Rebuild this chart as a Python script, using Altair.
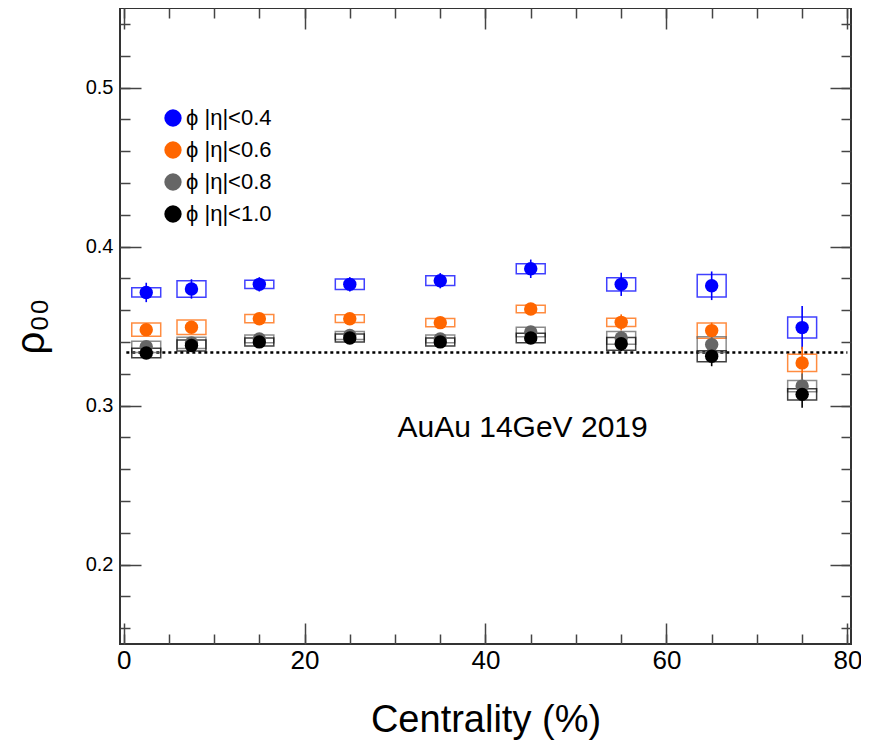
import altair as alt
import pandas as pd

# ---------------- data ----------------
centrality = [2.5, 7.5, 15, 25, 35, 45, 55, 65, 75]
series_labels = ["ϕ |η|<0.4", "ϕ |η|<0.6", "ϕ |η|<0.8", "ϕ |η|<1.0"]
series_colors = ["#0000ff", "#ff6600", "#666666", "#000000"]

rho_04 = [0.3711, 0.3733, 0.3762, 0.3762, 0.3785, 0.3860, 0.3762, 0.3753, 0.3490]
stat_04 = [0.0061, 0.0061, 0.0045, 0.0045, 0.0048, 0.0058, 0.0073, 0.0090, 0.0136]
sys_04 = [0.0029, 0.0052, 0.0026, 0.0033, 0.0031, 0.0031, 0.0042, 0.0071, 0.0066]

rho_06 = [0.3477, 0.3492, 0.3546, 0.3546, 0.3521, 0.3607, 0.3523, 0.3471, 0.3268]
stat_06 = [0.0035, 0.0035, 0.0030, 0.0030, 0.0030, 0.0030, 0.0050, 0.0050, 0.0102]
sys_06 = [0.0042, 0.0046, 0.0026, 0.0024, 0.0026, 0.0023, 0.0026, 0.0048, 0.0054]

rho_08 = [0.3369, 0.3394, 0.3419, 0.3440, 0.3419, 0.3462, 0.3425, 0.3383, 0.3122]
stat_08 = [0.0035, 0.0035, 0.0030, 0.0030, 0.0030, 0.0035, 0.0045, 0.0055, 0.0080]
sys_08 = [0.0035, 0.0035, 0.0025, 0.0025, 0.0025, 0.0030, 0.0040, 0.0050, 0.0035]

rho_10 = [0.3330, 0.3377, 0.3400, 0.3425, 0.3400, 0.3425, 0.3388, 0.3310, 0.3070]
stat_10 = [0.0035, 0.0035, 0.0030, 0.0030, 0.0030, 0.0035, 0.0045, 0.0063, 0.0084]
sys_10 = [0.0030, 0.0035, 0.0025, 0.0025, 0.0025, 0.0030, 0.0040, 0.0035, 0.0035]

x_major = [0, 20, 40, 60, 80]
x_minor = [0, 5, 10, 15, 20, 25, 30, 35, 40, 45, 50, 55, 60, 65, 70, 75, 80]
y_major = [0.2, 0.3, 0.4, 0.5]
y_minor = [0.16, 0.18, 0.2, 0.22, 0.24, 0.26, 0.28, 0.3, 0.32, 0.34, 0.36,
           0.38, 0.4, 0.42, 0.44, 0.46, 0.48, 0.5, 0.52, 0.54]

ref_value = 1.0 / 3.0
ref_x = [0.3, 80.0]
annot_text = "AuAu 14GeV 2019"
annot_x = 44.1
annot_y = 0.280

# ---------------- layout constants ----------------
W, H = 731, 636
BOX_HALF = 1.6
FONT = "Liberation Sans"
X_DOMAIN = [-0.4, 80.4]
Y_DOMAIN = [0.15, 0.55]

rows = []
all_series = [(rho_04, stat_04, sys_04), (rho_06, stat_06, sys_06),
              (rho_08, stat_08, sys_08), (rho_10, stat_10, sys_10)]
for si, (rho, st, sy) in enumerate(all_series):
    for i, c in enumerate(centrality):
        rows.append({
            "series": series_labels[si], "order": si, "cent": c, "rho": rho[i],
            "lo": rho[i] - st[i], "hi": rho[i] + st[i],
            "slo": rho[i] - sy[i], "shi": rho[i] + sy[i],
            "xl": c - BOX_HALF, "xr": c + BOX_HALF,
        })
df = pd.DataFrame(rows)

xs = alt.Scale(domain=X_DOMAIN, nice=False, zero=False)
ys = alt.Scale(domain=Y_DOMAIN, nice=False, zero=False)
cs = alt.Scale(domain=series_labels, range=series_colors)

legend = alt.Legend(
    orient="none", legendX=42, legendY=99, title=None,
    labelFont=FONT, labelFontSize=22, labelColor="black",
    symbolType="circle", symbolSize=300, symbolStrokeWidth=0,
    symbolOpacity=1, rowPadding=10, labelOffset=2, padding=0)


def color_enc():
    return alt.Color("series:N", scale=cs, legend=legend)


base = alt.Chart(df)

boxes = base.mark_rect(filled=False, strokeWidth=1.5, strokeOpacity=0.75).encode(
    x=alt.X("xl:Q", scale=xs, axis=None), x2="xr:Q",
    y=alt.Y("slo:Q", scale=ys, axis=None), y2="shi:Q",
    color=color_enc(),
    order="order:Q",
)

errs = base.mark_rule(strokeWidth=1.6).encode(
    x=alt.X("cent:Q", scale=xs, axis=None),
    y=alt.Y("lo:Q", scale=ys, axis=None), y2="hi:Q",
    color=color_enc(),
    order="order:Q",
)

points = base.mark_circle(size=180, opacity=1).encode(
    x=alt.X("cent:Q", scale=xs, axis=None),
    y=alt.Y("rho:Q", scale=ys, axis=None),
    color=color_enc(),
    order="order:Q",
)

ref_df = pd.DataFrame({"x": [ref_x[0]], "x2": [ref_x[1]], "y": [ref_value]})
ref_line = alt.Chart(ref_df).mark_rule(color="black", strokeWidth=2.5, strokeDash=[3, 3]).encode(
    x=alt.X("x:Q", scale=xs, axis=None), x2="x2:Q",
    y=alt.Y("y:Q", scale=ys, axis=None),
)

annot_df = pd.DataFrame({"x": [annot_x], "y": [annot_y], "t": [annot_text]})
annot = alt.Chart(annot_df).mark_text(font=FONT, fontSize=30, color="black",
                                      align="center", baseline="alphabetic").encode(
    x=alt.X("x:Q", scale=xs, axis=None),
    y=alt.Y("y:Q", scale=ys, axis=None),
    text="t:N",
)

TICK_COLOR = "#444444"


def axis_layer(xaxis, yaxis):
    return base.mark_point(opacity=0).encode(
        x=alt.X("cent:Q", scale=xs, axis=xaxis),
        y=alt.Y("rho:Q", scale=ys, axis=yaxis),
    )


label_layer = axis_layer(
    alt.Axis(orient="bottom", values=x_major, format="d", ticks=False, tickSize=0,
             domain=False, grid=False, labelFont=FONT, labelFontSize=26,
             labelColor="black", labelPadding=3, title="Centrality (%)",
             titleFont=FONT, titleFontSize=38, titleFontWeight="normal",
             titleColor="black", titlePadding=28),
    alt.Axis(orient="left", values=y_major, format=".1f", ticks=False, tickSize=0,
             domain=False, grid=False, labelFont=FONT, labelFontSize=20,
             labelColor="black", labelPadding=7, title="ρ₀₀",
             titleFont=FONT, titleFontSize=40, titleFontWeight="normal",
             titleColor="black", titlePadding=34),
)


def tick_axis(orient, vals, size, offset):
    return alt.Axis(orient=orient, values=vals, tickSize=size, offset=offset,
                    labels=False, domain=False, grid=False, title=None,
                    tickColor=TICK_COLOR, tickWidth=1.5)


tick_layers = [
    axis_layer(tick_axis("top", x_major, 21, -H), tick_axis("right", y_major, 21, -W)),
    axis_layer(tick_axis("top", x_minor, 10, -H), tick_axis("right", y_minor, 10, -W)),
    axis_layer(tick_axis("bottom", x_major, 21, -H), tick_axis("left", y_major, 21, -W)),
    axis_layer(tick_axis("bottom", x_minor, 10, -H), tick_axis("left", y_minor, 10, -W)),
]

chart = alt.layer(
    label_layer, *tick_layers, ref_line, boxes, errs, points, annot
).resolve_axis(
    x="independent", y="independent"
).properties(
    width=W, height=H,
    autosize=alt.AutoSizeParams(type="none"),
    padding={"left": 112, "top": 0, "right": 10, "bottom": 96},
).configure_view(
    stroke="#333333", strokeWidth=2
)

chart.save("out.html", embed_options={"renderer": "svg", "actions": False})
